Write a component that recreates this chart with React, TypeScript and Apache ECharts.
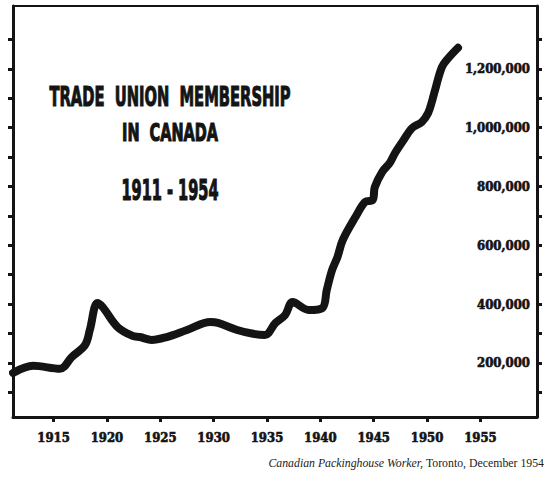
import React, { useEffect, useRef } from "react";
import * as echarts from "echarts";

// (year, members)
const years = [
  1911.2, 1913.1, 1915.6, 1916.7, 1917.95, 1918.4, 1919.1, 1919.6, 1921.0, 1922.4,
  1923.1, 1924.2, 1925.6, 1927.5, 1929.7, 1930.4, 1932.2, 1933.7, 1934.8, 1935.8,
  1936.7, 1937.4, 1938.9, 1940.2, 1940.6, 1941.1, 1941.6, 1942.1, 1943.3, 1944.2,
  1944.9, 1945.1, 1945.8, 1946.5, 1947.0, 1947.8, 1948.6, 1949.5, 1950.1, 1950.5,
  1950.8, 1951.4, 1952.0, 1952.9,
];
const members = [
  166000, 190000, 180000, 220000, 261000, 312000, 404000, 390000, 322000, 292000,
  288000, 278000, 288000, 312000, 339000, 336000, 312000, 299000, 295000, 336000,
  363000, 407000, 380000, 387000, 448000, 516000, 560000, 618000, 697000, 748000,
  754000, 798000, 850000, 880000, 914000, 958000, 999000, 1019000, 1050000, 1095000,
  1135000, 1207000, 1237000, 1272000,
];
const xTickYears = [1915, 1920, 1925, 1930, 1935, 1940, 1945, 1950, 1955];
const yTickValues = [
  100000, 200000, 300000, 400000, 500000, 600000, 700000, 800000, 900000, 1000000,
  1100000, 1200000, 1300000,
];
const yLabelValues = [200000, 400000, 600000, 800000, 1000000, 1200000];
const titleLines = ["TRADE  UNION  MEMBERSHIP", "IN  CANADA", "1911 - 1954"];
const sourceItalic = "Canadian Packinghouse Worker,";
const sourceRest = " Toronto, December 1954";

const INK = "#141414";
const LABEL_FONT = "'DejaVu Serif Condensed', 'DejaVu Serif', serif";
const TITLE_FONT = "'DejaVu Sans', sans-serif";
const SOURCE_FONT = "'Liberation Serif', serif";

function fmt(v: number): string {
  return String(Math.round(v)).replace(/\B(?=(\d{3})+(?!\d))/g, ",");
}

export default function App() {
  const ref = useRef<HTMLDivElement>(null);
  useEffect(() => {
    if (!ref.current) return;
    const chart = echarts.init(ref.current, null, { renderer: "svg" });
    const axisLine = { show: true, onZero: false, lineStyle: { color: INK, width: 3 } };
    const tick = { show: true, length: 5, lineStyle: { color: INK, width: 3 } };
    const labelStyle = {
      color: INK,
      fontFamily: LABEL_FONT,
      fontWeight: "bold",
      fontSize: 13,
      textBorderColor: INK,
      textBorderWidth: 0.6,
    };
    const titleText = (text: string, y: number, size: number, sx: number) => ({
      type: "text",
      x: 170,
      y,
      scaleX: sx,
      style: {
        text,
        fontFamily: TITLE_FONT,
        fontWeight: "bold",
        fontSize: size,
        fill: INK,
        stroke: INK,
        lineWidth: 1.2,
        align: "center",
        verticalAlign: "middle",
      },
    });
    chart.setOption({
      animation: false,
      backgroundColor: "#ffffff",
      grid: { left: 13, right: 13, top: 6, bottom: 63, containLabel: false },
      xAxis: [
        {
          type: "value",
          min: 1911.2,
          max: 1960.3,
          position: "bottom",
          axisLine,
          axisTick: { ...tick, customValues: xTickYears },
          axisLabel: {
            ...labelStyle,
            customValues: xTickYears,
            margin: 14,
            formatter: (v: number) => String(v),
          },
          splitLine: { show: false },
        },
        {
          type: "value",
          min: 1911.2,
          max: 1960.3,
          position: "top",
          axisLine: { show: true, onZero: false, lineStyle: { color: INK, width: 2 } },
          axisTick: { show: false },
          axisLabel: { show: false },
          splitLine: { show: false },
        },
      ],
      yAxis: [
        {
          type: "value",
          min: 16000,
          max: 1414000,
          position: "right",
          axisLine,
          axisTick: { ...tick, customValues: yTickValues },
          axisLabel: {
            ...labelStyle,
            inside: true,
            customValues: yLabelValues,
            margin: 7,
            formatter: (v: number) => fmt(v),
          },
          splitLine: { show: false },
        },
        {
          type: "value",
          min: 16000,
          max: 1414000,
          position: "left",
          axisLine,
          axisTick: { ...tick, customValues: yTickValues },
          axisLabel: { show: false },
          splitLine: { show: false },
        },
      ],
      series: [
        {
          type: "line",
          xAxisIndex: 0,
          yAxisIndex: 0,
          data: years.map((y, i) => [y, members[i]]),
          smooth: 0.35,
          showSymbol: false,
          lineStyle: { color: INK, width: 8, cap: "round", join: "round" },
        },
      ],
      graphic: [
        titleText(titleLines[0], 97, 27, 0.545),
        titleText(titleLines[1], 132, 25, 0.58),
        titleText(titleLines[2], 190, 28, 0.52),
        {
          type: "text",
          x: 544,
          y: 463,
          style: {
            text: "{i|" + sourceItalic + "}" + sourceRest,
            fontFamily: SOURCE_FONT,
            fontSize: 11.8,
            fill: "#222",
            align: "right",
            verticalAlign: "middle",
            rich: {
              i: {
                fontFamily: SOURCE_FONT,
                fontStyle: "italic",
                fontSize: 11.8,
                fill: "#222",
              },
            },
          },
        },
      ],
    });
    return () => chart.dispose();
  }, []);
  return (
    <div
      ref={ref}
      style={{ position: "fixed", left: 0, top: 0, width: 550, height: 480, background: "#fff" }}
    />
  );
}
